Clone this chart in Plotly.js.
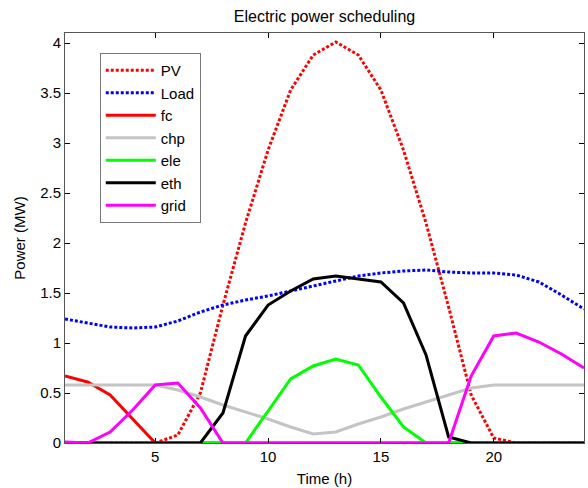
<!DOCTYPE html>
<html>
<head>
<meta charset="utf-8">
<script src="https://cdn.plot.ly/plotly-3.0.1.min.js"></script>
<style>html,body{margin:0;padding:0;background:#fff;}#chart{width:588px;height:488px;}</style>
</head>
<body>
<div id="chart"></div>
<script>
const hours = [1,2,3,4,5,6,7,8,9,10,11,12,13,14,15,16,17,18,19,20,21,22,23,24];
const seriesNames = ["PV","Load","fc","chp","ele","eth","grid"];
const pv   = [0,0,0,0,0,0.08,0.5,1.38,2.2,2.93,3.53,3.88,4.01,3.88,3.53,2.93,2.2,1.36,0.48,0.05,0,0,0,0];
const load = [1.24,1.20,1.16,1.15,1.16,1.22,1.31,1.38,1.43,1.47,1.52,1.57,1.62,1.67,1.70,1.72,1.73,1.71,1.70,1.70,1.68,1.61,1.48,1.34];
const fc   = [0.67,0.61,0.48,0.24,0,0,0,0,0,0,0,0,0,0,0,0,0,0,0,0,0,0,0,0];
const chp  = [0.58,0.58,0.58,0.58,0.58,0.53,0.46,0.38,0.31,0.24,0.16,0.09,0.11,0.19,0.26,0.34,0.41,0.48,0.55,0.58,0.58,0.58,0.58,0.58];
const ele  = [0,0,0,0,0,0,0,0,0,0.32,0.64,0.77,0.84,0.78,0.46,0.16,0,0,0,0,0,0,0,0];
const eth  = [0,0,0,0,0,0,0,0.30,1.07,1.38,1.52,1.64,1.67,1.64,1.61,1.40,0.88,0.06,0,0,0,0,0,0];
const grid = [0.01,0,0.11,0.33,0.58,0.60,0.35,0,0,0,0,0,0,0,0,0,0,0,0.67,1.07,1.10,1.01,0.89,0.75];

const values = [pv, load, fc, chp, ele, eth, grid];
const colors = ["#ff0000","#0000ff","#ff0000","#c4c4c4","#00ff00","#000000","#ff00ff"];
const dashes = ["3px,2px","3px,2px","solid","solid","solid","solid","solid"];

const traces = values.map((v,i) => ({
  x: hours, y: v, name: seriesNames[i], type: "scatter", mode: "lines",
  line: {color: colors[i], width: 3, dash: dashes[i]}
}));

const font = {family: "Liberation Sans, Arial, sans-serif", size: 15, color: "#000"};
const layout = {
  width: 588, height: 488,
  margin: {l: 65, r: 4, t: 33, b: 45},
  paper_bgcolor: "#fff", plot_bgcolor: "#fff",
  font: font,
  title: {text: "Electric power scheduling", font: {family: font.family, size: 16, color: "#000"},
          x: 0.5, xref: "paper", y: 1 - 16/488, yref: "container", yanchor: "middle"},
  xaxis: {range: [1, 24], tickvals: [5,10,15,20], ticks: "inside", ticklen: 5, tickcolor: "#000",
          showline: true, linecolor: "#555", linewidth: 1, mirror: "ticks", showgrid: false, zeroline: false,
          title: {text: "Time (h)", font: {size: 15}, standoff: 9}, tickfont: {size: 15}},
  yaxis: {range: [0, 4.1], dtick: 0.5, tick0: 0, ticks: "inside", ticklen: 5, tickcolor: "#000",
          showline: true, linecolor: "#555", linewidth: 1, mirror: "ticks", showgrid: false, zeroline: false,
          title: {text: "Power (MW)", font: {size: 15}, standoff: 10}, tickfont: {size: 15}},
  legend: {x: 0.067, y: 0.951, xanchor: "left", yanchor: "top", bgcolor: "#fff",
           bordercolor: "#777", borderwidth: 1, font: {size: 15}, itemwidth: 50},
  showlegend: true
};
Plotly.newPlot("chart", traces, layout, {displayModeBar: false, staticPlot: true});
</script>
</body>
</html>
